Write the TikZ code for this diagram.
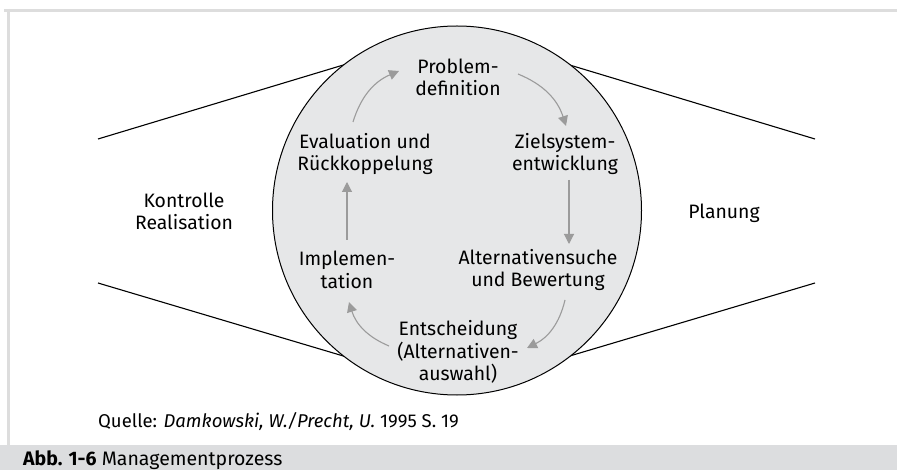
\documentclass[tikz,border=0pt]{standalone}
\usepackage{fontspec}
\setmainfont{Fira Sans}
\usetikzlibrary{arrows.meta}
\definecolor{framegray}{HTML}{DDDDDD}
\definecolor{bandgray}{HTML}{DCDDDF}
\definecolor{discgray}{HTML}{E6E7E8}
\definecolor{flowgray}{HTML}{9B9B9B}
\begin{document}
\begin{tikzpicture}[x=1pt,y=-1pt,
  lbl/.style={align=center,inner sep=0pt,font=\fontsize{19.4}{22.5}\selectfont},
  note/.style={anchor=base west,inner sep=0pt,font=\fontsize{18.5}{20}\selectfont},
  edge/.style={line width=1.1pt,black},
  flowarrow/.style={draw=flowgray,line width=1.1pt,-{Triangle[length=10pt,width=10pt]}}]
\useasboundingbox (0,0) rectangle (897,470);

% page frame and caption band
\fill[bandgray] (0,445) rectangle (897,470);
\draw[framegray,line width=3pt] (4,10.5) -- (897,10.5);
\draw[framegray,line width=3pt] (8.5,9) -- (8.5,445);

% funnel lines on both sides
\coordinate (ul) at (98,139);  \coordinate (ulc) at (345,64.5);
\coordinate (ur) at (815,139); \coordinate (urc) at (568,64.5);
\coordinate (ll) at (98,283);  \coordinate (llc) at (345,356.5);
\coordinate (lr) at (815,283); \coordinate (lrc) at (568,356.5);
\draw[edge] (ul) -- (ulc);
\draw[edge] (ur) -- (urc);
\draw[edge] (ll) -- (llc);
\draw[edge] (lr) -- (lrc);

% central disc
\node[circle,draw,fill=discgray,minimum size=369pt,inner sep=0pt,line width=1pt] (disc) at (457,210.5) {};

% side labels
\node[lbl] (ctrl) at (184,211.5) {Kontrolle\\Realisation};
\node[lbl] (plan) at (724,213) {Planung};

% process steps
\node[lbl] (prob) at (458,77.5) {Problem-\\definition};
\node[lbl] (goal) at (565,154) {Zielsystem-\\entwicklung};
\node[lbl] (alt)  at (538,270) {Alternativensuche\\und Bewertung};
\node[lbl] (dec)  at (458,352) {Entscheidung\\(Alternativen-\\auswahl)};
\node[lbl] (impl) at (347,270) {Implemen-\\tation};
\node[lbl] (eval) at (365,154) {Evaluation und\\Rückkoppelung};

% cycle arrows
\coordinate (a1s) at (518,74);  \coordinate (a1e) at (566,126);
\coordinate (a2s) at (569,180); \coordinate (a2e) at (569,244);
\coordinate (a3s) at (565,300); \coordinate (a3e) at (527,348);
\coordinate (a4s) at (389,346); \coordinate (a4e) at (349,302);
\coordinate (a5s) at (347,240); \coordinate (a5e) at (347,182);
\coordinate (a6s) at (353,122); \coordinate (a6e) at (399,71);
\draw[flowarrow] (a1s) to[bend left=25] (a1e);
\draw[flowarrow] (a2s) -- (a2e);
\draw[flowarrow] (a3s) to[bend left=25] (a3e);
\draw[flowarrow] (a4s) to[bend left=25] (a4e);
\draw[flowarrow] (a5s) -- (a5e);
\draw[flowarrow] (a6s) to[bend left=25] (a6e);

% source and caption
\node[note] (src) at (98,427) {Quelle: \textit{Damkowski, W./Precht, U.} 1995 S.~19};
\node[note,font=\fontsize{19.5}{20}\selectfont] (cap) at (23,465) {\textbf{Abb. 1-6} Managementprozess};
\end{tikzpicture}
\end{document}
